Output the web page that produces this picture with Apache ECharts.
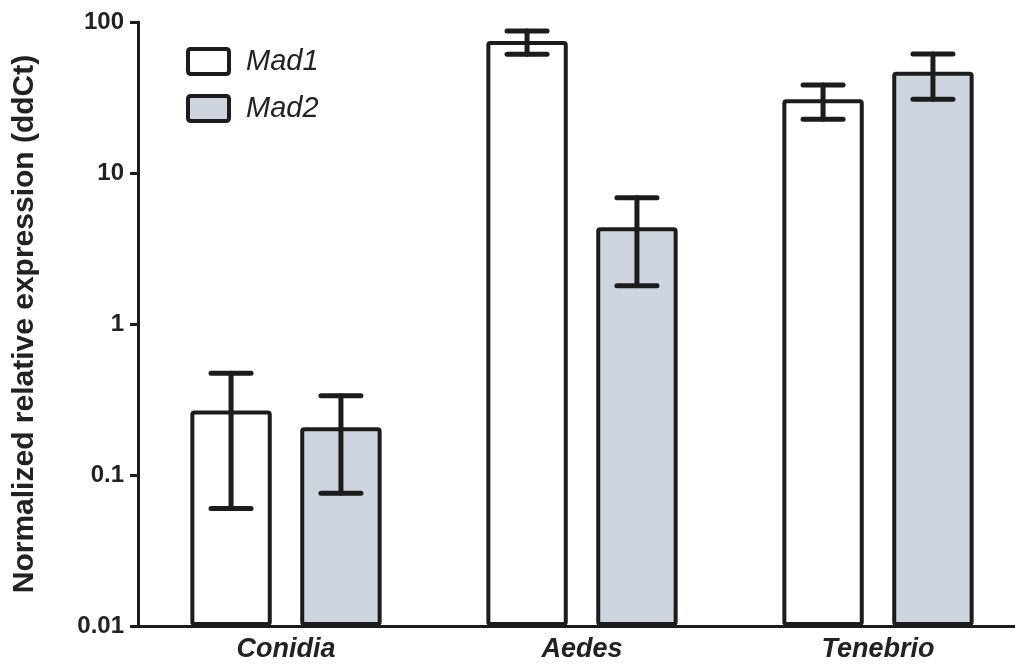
<!DOCTYPE html>
<html>
<head>
<meta charset="utf-8">
<script src="https://cdn.jsdelivr.net/npm/echarts@6/dist/echarts.min.js"></script>
<style>
  html, body { margin: 0; padding: 0; background: #ffffff; overflow: hidden; }
  /* the x axis runs past the right edge of the view */
  #chart { width: 1030px; height: 666px; }
</style>
</head>
<body>
<div id="chart"></div>
<script>
// Sample groups on the category axis
const categories = ['Conidia', 'Aedes', 'Tenebrio'];
// Mean normalized relative expression (ddCt)
const mad1 = [0.267, 74.8, 30.8];
const mad2 = [0.207, 4.37, 46.9];
// Error bar ends (lower, upper)
const mad1Low = [0.060, 61.1, 22.7];
const mad1High = [0.471, 87.2, 38.3];
const mad2Low = [0.0757, 1.79, 30.8];
const mad2High = [0.335, 6.86, 61.4];
// Log axis range
const yMin = 0.01;
const yMax = 100;

const INK = '#1c1c1c';
const GREY = '#cfd5de';
// Legend swatch: rectangle with slightly rounded corners
const SWATCH = 'path://M3,0 H38 Q41,0 41,3 V22 Q41,25 38,25 H3 Q0,25 0,22 V3 Q0,0 3,0 Z';

const BAR_W = 0.275;  // bar width as a share of the category band
const BAR_GAP = 0.35; // gap between paired bars, as a share of bar width

function errorSeries(name, low, high, side) {
  return {
    type: 'custom',
    name: name + ' error',
    z: 5,
    silent: true,
    data: categories.map((c, i) => [i, low[i], high[i]]),
    renderItem: function (params, api) {
      const idx = api.value(0);
      const lo = api.coord([idx, api.value(1)]);
      const hi = api.coord([idx, api.value(2)]);
      const band = api.size([1, 1])[0];
      const x = lo[0] + side * band * BAR_W * (1 + BAR_GAP) / 2;
      const half = 20;
      const st = { stroke: INK, lineWidth: 5, lineCap: 'round' };
      return {
        type: 'group',
        children: [
          { type: 'line', shape: { x1: x, y1: lo[1], x2: x, y2: hi[1] }, style: st },
          { type: 'line', shape: { x1: x - half, y1: hi[1], x2: x + half, y2: hi[1] }, style: st },
          { type: 'line', shape: { x1: x - half, y1: lo[1], x2: x + half, y2: lo[1] }, style: st }
        ]
      };
    }
  };
}

const chart = echarts.init(document.getElementById('chart'), null, { renderer: 'canvas' });
chart.setOption({
  animation: false,
  backgroundColor: '#ffffff',
  textStyle: { fontFamily: 'Liberation Sans, Arial, sans-serif' },
  grid: { left: 138, top: 22, bottom: 40, right: 4, containLabel: false },
  legend: {
    orient: 'vertical',
    left: 181,
    top: 42,
    itemWidth: 41,
    itemHeight: 25,
    itemGap: 18,
    data: [
      { name: 'Mad1', icon: SWATCH, itemStyle: { color: '#ffffff', borderColor: INK, borderWidth: 4 } },
      { name: 'Mad2', icon: SWATCH, itemStyle: { color: GREY, borderColor: INK, borderWidth: 4 } }
    ],
    textStyle: { fontSize: 29, fontStyle: 'italic', color: '#222', padding: [0, 0, 0, 12] }
  },
  xAxis: {
    type: 'category',
    data: categories,
    axisLine: { lineStyle: { color: INK, width: 3 } },
    axisTick: { alignWithLabel: true, length: 8, lineStyle: { color: INK, width: 3 } },
    axisLabel: { fontSize: 27, fontWeight: 'bold', fontStyle: 'italic', color: '#222', margin: 10 }
  },
  yAxis: {
    type: 'log',
    logBase: 10,
    min: yMin,
    max: yMax,
    startValue: yMin,
    name: 'Normalized relative expression (ddCt)',
    nameLocation: 'middle',
    nameGap: 98,
    nameTextStyle: { fontSize: 30, fontWeight: 'bold', color: '#222' },
    axisLine: { show: true, lineStyle: { color: INK, width: 3 } },
    axisTick: { show: true, length: 8, lineStyle: { color: INK, width: 3 } },
    splitLine: { show: false },
    minorTick: { show: false },
    axisLabel: {
      fontSize: 24, fontWeight: 'bold', color: '#222', margin: 14,
      formatter: v => String(Number(Number(v).toPrecision(6)))
    }
  },
  series: [
    {
      name: 'Mad1', type: 'bar', data: mad1,
      barWidth: (BAR_W * 100) + '%', barGap: (BAR_GAP * 100) + '%',
      itemStyle: { color: '#ffffff', borderColor: INK, borderWidth: 4, borderRadius: 2 }
    },
    {
      name: 'Mad2', type: 'bar', data: mad2,
      barWidth: (BAR_W * 100) + '%', barGap: (BAR_GAP * 100) + '%',
      itemStyle: { color: GREY, borderColor: INK, borderWidth: 4, borderRadius: 2 }
    },
    errorSeries('Mad1', mad1Low, mad1High, -1),
    errorSeries('Mad2', mad2Low, mad2High, 1)
  ]
});
</script>
</body>
</html>
